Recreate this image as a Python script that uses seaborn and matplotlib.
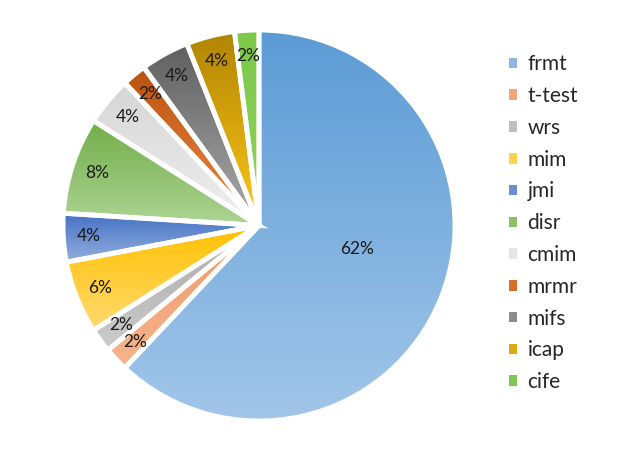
import numpy as np
import matplotlib
matplotlib.use('Agg')
import matplotlib.pyplot as plt
import matplotlib.colors as mcolors
from matplotlib.patches import Patch
import seaborn as sns

methods = ['frmt', 't-test', 'wrs', 'mim', 'jmi', 'disr', 'cmim', 'mrmr', 'mifs', 'icap', 'cife']
counts = [31, 1, 1, 3, 2, 4, 2, 1, 2, 2, 1]

# gradient colours per slice (top, bottom) and flat colour for legend
top_colors = ['#5B9BD5', '#EE9A66', '#ABABAB', '#FFC000', '#4472C4', '#70AD47',
              '#D6D6D6', '#B8530F', '#5F5F5F', '#B08400', '#7CC84A']
bottom_colors = ['#A2C6E9', '#F6B48C', '#CBCBCB', '#FFDA70', '#93AEDE', '#AED495',
                 '#EFEFEF', '#F08A45', '#ABABAB', '#FFC81A', '#92D460']
legend_colors = ['#8DB8E2', '#F4A57A', '#BFBFBF', '#FFD24D', '#6A8FD0', '#8CC06B',
                 '#E6E6E6', '#D86E2A', '#8C8C8C', '#DDA812', '#7CC850']

sns.set_style('white')
plt.rcParams['font.family'] = ['Lato', 'DejaVu Sans']

fig = plt.figure(figsize=(6.23, 4.51), dpi=100)
ax = fig.add_axes([63 / 623, 30 / 451, 392 / 623, 391 / 451])

wedges, texts, autotexts = ax.pie(counts, startangle=90, counterclock=False,
                                  autopct='%1.0f%%', pctdistance=0.87,
                                  wedgeprops=dict(edgecolor='white', linewidth=3.5),
                                  textprops=dict(fontsize=12.5, color='#1a1a1a'))

for w, c_top, c_bot in zip(wedges, top_colors, bottom_colors):
    verts = w.get_patch_transform().transform(w.get_path().vertices)
    x0, x1 = verts[:, 0].min(), verts[:, 0].max()
    y0, y1 = verts[:, 1].min(), verts[:, 1].max()
    cmap = mcolors.LinearSegmentedColormap.from_list('g', [c_bot, c_top])
    grad = np.linspace(0, 1, 256).reshape(-1, 1)
    im = ax.imshow(grad, cmap=cmap, extent=[x0, x1, y0, y1], origin='lower',
                   aspect='auto', zorder=0.5, interpolation='bilinear')
    im.set_clip_path(w)
    w.set_facecolor('none')
    w.set_zorder(1)

# the big slice label sits closer to the centre
autotexts[0].set_position((0.50, -0.12))
for t in autotexts:
    t.set_zorder(3)

ax.set_xlim(-1, 1)
ax.set_ylim(-1, 1)
ax.axis('off')

handles = [Patch(facecolor=c, edgecolor='none') for c in legend_colors]
fig.legend(handles, methods, loc='center left', bbox_to_anchor=(0.80, 0.505),
           frameon=False, fontsize=15, handlelength=0.4, handleheight=0.4,
           handletextpad=0.5, labelspacing=0.565, borderpad=0)

fig.savefig('out.png', dpi=100)
